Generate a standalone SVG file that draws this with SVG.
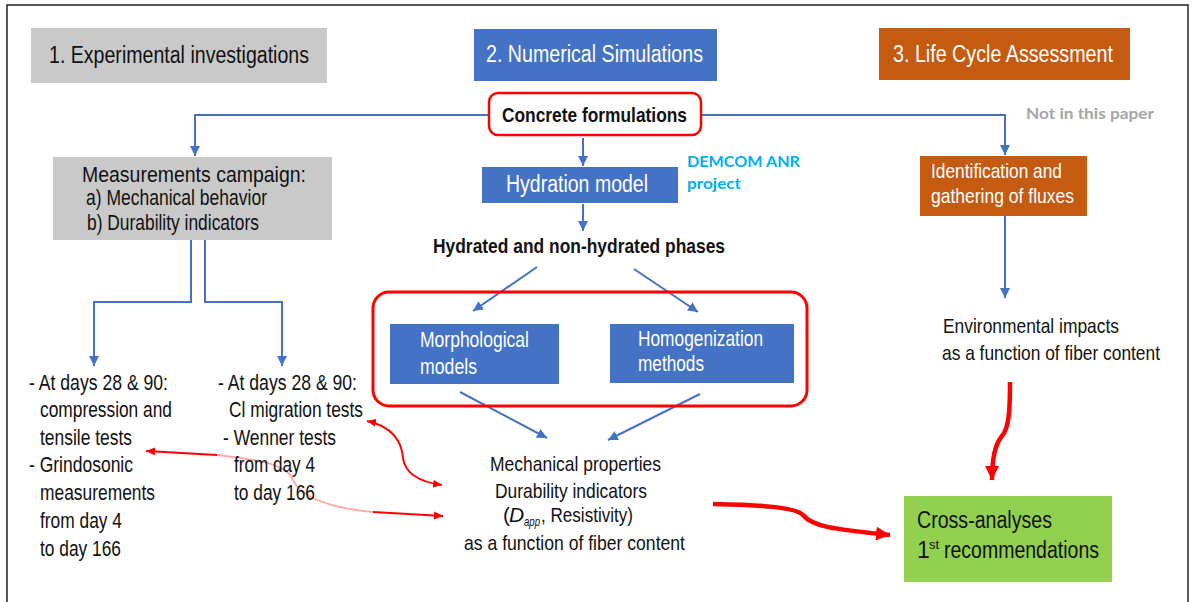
<svg xmlns="http://www.w3.org/2000/svg" width="1192" height="602" viewBox="0 0 1192 602">
<defs>
<style>
text{font-family:"Liberation Sans Narrow","Liberation Sans",Arial,sans-serif;fill:#111}
.t23{font-size:23px}
.t22{font-size:22px}
.t21{font-size:21px}
.b{font-weight:bold}
.w{fill:#fff}
.cal{font-family:Lato,"Open Sans","Liberation Sans",sans-serif;font-weight:bold;font-size:15px}
.blue{fill:#4472c4}
.gray{fill:#c9c9c9}
.orange{fill:#c55a11}
.bl{fill:none;stroke:#4472c4;stroke-width:2}
.rt{fill:none;stroke:#ff0000;stroke-width:2}
.rT{fill:none;stroke:#ff0000;stroke-width:4.5}
</style>
<marker id="ab" markerUnits="userSpaceOnUse" markerWidth="10" markerHeight="10" refX="10" refY="5" orient="auto"><path d="M0,0 L10,5 L0,10 z" fill="#4472c4"/></marker>
<marker id="ar" markerUnits="userSpaceOnUse" markerWidth="9" markerHeight="8" refX="9" refY="4" orient="auto-start-reverse"><path d="M0,0 L9,4 L0,8 z" fill="#ff0000"/></marker>
<marker id="aR" markerUnits="userSpaceOnUse" markerWidth="14" markerHeight="14" refX="14" refY="7" orient="auto"><path d="M0,0 L14,7 L0,14 z" fill="#ff0000"/></marker>
</defs>
<rect x="7" y="5" width="1181" height="620" fill="#fff" stroke="#222" stroke-width="1.5"/>

<g id="connectors">
<path class="bl" d="M489,115 H195 V156" marker-end="url(#ab)"/>
<path class="bl" d="M701,115 H1005 V155" marker-end="url(#ab)"/>
<path class="bl" d="M583,138 V166" marker-end="url(#ab)"/>
<path class="bl" d="M583,204 V231" marker-end="url(#ab)"/>
<path class="bl" d="M537,267 L473,311" marker-end="url(#ab)"/>
<path class="bl" d="M634,269 L698,312" marker-end="url(#ab)"/>
<path class="bl" d="M460,392 L547,438" marker-end="url(#ab)"/>
<path class="bl" d="M700,394 L608,440" marker-end="url(#ab)"/>
<path class="bl" d="M191,240 V302 H94 V366" marker-end="url(#ab)"/>
<path class="bl" d="M205,240 V302 H282 V366" marker-end="url(#ab)"/>
<path class="bl" d="M1005,216 V298" marker-end="url(#ab)"/>
<path class="rt" d="M367,421 C392,426 402,442 403,458 C405,474 420,482 442,485" marker-start="url(#ar)" marker-end="url(#ar)"/>
<path class="rt" d="M217,455 L146,451" marker-end="url(#ar)"/>
<path d="M217,455 C260,460 285,464 292,478 C300,498 330,508 373,512" fill="none" stroke="#ffaaaa" stroke-width="2"/>
<path class="rt" d="M373,512 L443,516" marker-end="url(#ar)"/>
<path class="rT" d="M713,504 C760,505 795,507 803,515 C812,526 830,529 890,535" marker-end="url(#aR)"/>
<path class="rT" d="M1010,382 C1010,410 1009,428 1002,436 C994,445 992,465 992,480" marker-end="url(#aR)"/>
</g>

<g id="title-experimental">
<rect class="gray" x="31" y="28" width="296" height="55"/>
<text class="t23" x="49" y="63" textLength="260" lengthAdjust="spacingAndGlyphs">1. Experimental investigations</text>
</g>
<g id="title-numerical">
<rect class="blue" x="474" y="29" width="243" height="52"/>
<text class="t23 w" x="486" y="62" textLength="217" lengthAdjust="spacingAndGlyphs">2. Numerical Simulations</text>
</g>
<g id="title-lca">
<rect class="orange" x="879" y="28" width="251" height="52"/>
<text class="t23 w" x="893" y="62" textLength="220" lengthAdjust="spacingAndGlyphs">3. Life Cycle Assessment</text>
</g>

<g id="concrete-formulations">
<rect x="489" y="93" width="212" height="42" rx="9" fill="#fff" stroke="#ff0000" stroke-width="2.5"/>
<text class="t21 b" x="502" y="122" textLength="185" lengthAdjust="spacingAndGlyphs">Concrete formulations</text>
</g>

<g id="measurements">
<rect class="gray" x="53" y="157" width="279" height="83"/>
<text class="t22" x="82" y="182" textLength="224" lengthAdjust="spacingAndGlyphs">Measurements campaign:</text>
<text class="t22" x="86" y="205" textLength="181" lengthAdjust="spacingAndGlyphs">a) Mechanical behavior</text>
<text class="t22" x="87" y="230" textLength="172" lengthAdjust="spacingAndGlyphs">b) Durability indicators</text>
</g>

<g id="hydration-model">
<rect class="blue" x="482" y="167" width="196" height="36"/>
<text class="t23 w" x="506" y="192" textLength="142" lengthAdjust="spacingAndGlyphs">Hydration model</text>
</g>

<g id="demcom">
<text class="cal" x="687" y="167" style="fill:#00b0f0" textLength="113" lengthAdjust="spacingAndGlyphs">DEMCOM ANR</text>
<text class="cal" x="687" y="189" style="fill:#00b0f0" textLength="54" lengthAdjust="spacingAndGlyphs">project</text>
</g>

<g id="not-in-paper">
<text class="cal" x="1026" y="119" style="fill:#a6a6a6" textLength="128" lengthAdjust="spacingAndGlyphs">Not in this paper</text>
</g>

<g id="phases">
<text class="t21 b" x="433" y="253" textLength="292" lengthAdjust="spacingAndGlyphs">Hydrated and non-hydrated phases</text>
</g>

<g id="identification">
<rect class="orange" x="920" y="156" width="167" height="60"/>
<text class="t21 w" x="931" y="178" textLength="131" lengthAdjust="spacingAndGlyphs">Identification and</text>
<text class="t21 w" x="931" y="203" textLength="143" lengthAdjust="spacingAndGlyphs">gathering of fluxes</text>
</g>

<g id="models-group">
<rect x="373" y="292" width="434" height="114" rx="16" fill="none" stroke="#ff0000" stroke-width="3"/>
</g>
<g id="morphological">
<rect class="blue" x="390" y="324" width="169" height="60"/>
<text class="t22 w" x="420" y="347" textLength="109" lengthAdjust="spacingAndGlyphs">Morphological</text>
<text class="t22 w" x="420" y="374" textLength="57" lengthAdjust="spacingAndGlyphs">models</text>
</g>
<g id="homogenization">
<rect class="blue" x="610" y="324" width="184" height="59"/>
<text class="t22 w" x="638" y="346" textLength="125" lengthAdjust="spacingAndGlyphs">Homogenization</text>
<text class="t22 w" x="638" y="371" textLength="66" lengthAdjust="spacingAndGlyphs">methods</text>
</g>

<g id="environmental">
<text class="t21" x="943" y="333" textLength="176" lengthAdjust="spacingAndGlyphs">Environmental impacts</text>
<text class="t21" x="942" y="360" textLength="218" lengthAdjust="spacingAndGlyphs">as a function of fiber content</text>
</g>

<g id="mechanical-tests">
<text class="t22" x="29" y="390" textLength="139" lengthAdjust="spacingAndGlyphs">- At days 28 &amp; 90:</text>
<text class="t22" x="40" y="417" textLength="132" lengthAdjust="spacingAndGlyphs">compression and</text>
<text class="t22" x="40" y="445" textLength="92" lengthAdjust="spacingAndGlyphs">tensile tests</text>
<text class="t22" x="29" y="472" textLength="104" lengthAdjust="spacingAndGlyphs">- Grindosonic</text>
<text class="t22" x="40" y="500" textLength="115" lengthAdjust="spacingAndGlyphs">measurements</text>
<text class="t22" x="40" y="528" textLength="82" lengthAdjust="spacingAndGlyphs">from day 4</text>
<text class="t22" x="40" y="556" textLength="81" lengthAdjust="spacingAndGlyphs">to day 166</text>
</g>

<g id="durability-tests">
<text class="t22" x="218" y="390" textLength="139" lengthAdjust="spacingAndGlyphs">- At days 28 &amp; 90:</text>
<text class="t22" x="229" y="417" textLength="134" lengthAdjust="spacingAndGlyphs">Cl migration tests</text>
<text class="t22" x="223" y="445" textLength="113" lengthAdjust="spacingAndGlyphs">- Wenner tests</text>
<text class="t22" x="234" y="472" textLength="81" lengthAdjust="spacingAndGlyphs">from day 4</text>
<text class="t22" x="234" y="500" textLength="81" lengthAdjust="spacingAndGlyphs">to day 166</text>
</g>

<g id="properties">
<text class="t21" x="490" y="471" textLength="171" lengthAdjust="spacingAndGlyphs">Mechanical properties</text>
<text class="t21" x="495" y="498" textLength="152" lengthAdjust="spacingAndGlyphs">Durability indicators</text>
<text class="t21"><tspan x="503" y="522">(</tspan><tspan x="509" y="522" font-style="italic">D</tspan><tspan x="524" y="526" font-style="italic" font-size="13" textLength="16" lengthAdjust="spacingAndGlyphs">app</tspan><tspan x="541" y="522" textLength="92" lengthAdjust="spacingAndGlyphs">, Resistivity)</tspan></text>
<text class="t21" x="464" y="550" textLength="221" lengthAdjust="spacingAndGlyphs">as a function of fiber content</text>
</g>

<g id="cross-analyses">
<rect x="904" y="496" width="208" height="86" fill="#92d050"/>
<text class="t23" x="917" y="528" textLength="135" lengthAdjust="spacingAndGlyphs">Cross-analyses</text>
<text class="t23"><tspan x="917" y="558">1</tspan><tspan x="929" y="549" font-size="13">st</tspan><tspan x="944" y="558" textLength="155" lengthAdjust="spacingAndGlyphs">recommendations</tspan></text>
</g>
</svg>
